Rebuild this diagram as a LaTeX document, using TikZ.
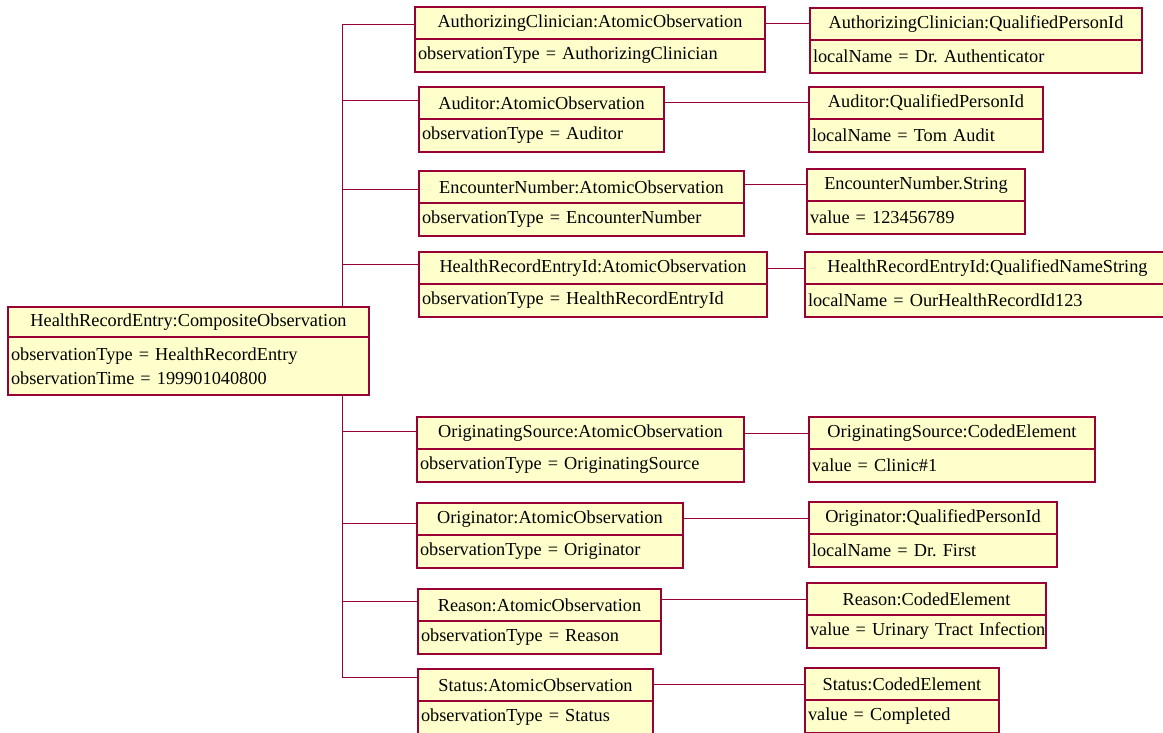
\documentclass[tikz,border=0pt]{standalone}
\usepackage{fontspec}
\setmainfont{Liberation Serif}
\usetikzlibrary{positioning}

\definecolor{umlline}{RGB}{153,0,51}
\definecolor{umlfill}{RGB}{255,255,204}

\tikzset{
  objtitle/.style={draw=umlline, fill=umlfill, line width=1.2pt, anchor=north west,
    inner sep=0pt, outer sep=0pt, minimum width=#1, minimum height=32pt,
    font=\fontsize{18.3}{24}\selectfont\frenchspacing},
  objattr/.style={draw=umlline, fill=umlfill, line width=1.2pt, inner xsep=3pt,
    inner ysep=0pt, outer sep=0pt, text width=#1, align=left, minimum height=33pt,
    font=\fontsize{18.3}{24}\selectfont\frenchspacing},
  link/.style={draw=umlline, line width=1pt},
}

\begin{document}
\begin{tikzpicture}[x=1pt, y=-1pt]
\useasboundingbox (0,0) rectangle (1163,733);

% trunk joints
\coordinate (j1) at (342,25);
\coordinate (j2) at (342,101);
\coordinate (j3) at (342,190);
\coordinate (j4) at (342,264);
\coordinate (j5) at (342,431);
\coordinate (j6) at (342,523);
\coordinate (j7) at (342,601);
\coordinate (j8) at (342,677);
\draw[link] (j1) -- (j8);

% composite
\node[objtitle=361pt, minimum height=30pt] (entry) at (8,307) {HealthRecordEntry:CompositeObservation};
\node[objattr=355pt, minimum height=58pt, below=0pt of entry.south west, anchor=north west] (entry-attr)
  {observationType = HealthRecordEntry\\observationTime = 199901040800};

% atomic observations
\node[objtitle=350pt] (authObs) at (415,7) {AuthorizingClinician:AtomicObservation};
\node[objattr=344pt, below=0pt of authObs.south west, anchor=north west] (authObs-attr) {observationType = AuthorizingClinician};
\node[objtitle=245pt] (audObs) at (419,87) {Auditor:AtomicObservation};
\node[objattr=239pt, below=0pt of audObs.south west, anchor=north west] (audObs-attr) {observationType = Auditor};
\node[objtitle=325pt] (encObs) at (419,171) {EncounterNumber:AtomicObservation};
\node[objattr=319pt, below=0pt of encObs.south west, anchor=north west] (encObs-attr) {observationType = EncounterNumber};
\node[objtitle=348pt] (hreObs) at (419,252) {HealthRecordEntryId:AtomicObservation};
\node[objattr=342pt, below=0pt of hreObs.south west, anchor=north west] (hreObs-attr) {observationType = HealthRecordEntryId};
\node[objtitle=327pt] (srcObs) at (417,417) {OriginatingSource:AtomicObservation};
\node[objattr=321pt, below=0pt of srcObs.south west, anchor=north west] (srcObs-attr) {observationType = OriginatingSource};
\node[objtitle=266pt] (origObs) at (417,503) {Originator:AtomicObservation};
\node[objattr=260pt, below=0pt of origObs.south west, anchor=north west] (origObs-attr) {observationType = Originator};
\node[objtitle=243pt] (reasObs) at (418,589) {Reason:AtomicObservation};
\node[objattr=237pt, below=0pt of reasObs.south west, anchor=north west] (reasObs-attr) {observationType = Reason};
\node[objtitle=235pt] (statObs) at (418,669) {Status:AtomicObservation};
\node[objattr=229pt, below=0pt of statObs.south west, anchor=north west] (statObs-attr) {observationType = Status};

% values
\node[objtitle=332pt] (authId) at (810,8) {AuthorizingClinician:QualifiedPersonId};
\node[objattr=326pt, below=0pt of authId.south west, anchor=north west] (authId-attr) {localName = Dr. Authenticator};
\node[objtitle=234pt] (audId) at (809,87) {Auditor:QualifiedPersonId};
\node[objattr=228pt, below=0pt of audId.south west, anchor=north west] (audId-attr) {localName = Tom Audit};
\node[objtitle=218pt] (encVal) at (807,169) {EncounterNumber.String};
\node[objattr=212pt, below=0pt of encVal.south west, anchor=north west] (encVal-attr) {value = 123456789};
\node[objtitle=365pt] (hreId) at (805,252) {HealthRecordEntryId:QualifiedNameString};
\node[objattr=359pt, below=0pt of hreId.south west, anchor=north west] (hreId-attr) {localName = OurHealthRecordId123};
\node[objtitle=286pt] (srcVal) at (809,417) {OriginatingSource:CodedElement};
\node[objattr=280pt, below=0pt of srcVal.south west, anchor=north west] (srcVal-attr) {value = Clinic\#1};
\node[objtitle=248pt] (origId) at (809,502) {Originator:QualifiedPersonId};
\node[objattr=242pt, below=0pt of origId.south west, anchor=north west] (origId-attr) {localName = Dr. First};
\node[objtitle=239pt] (reasVal) at (807,583) {Reason:CodedElement};
\node[objattr=233pt, below=0pt of reasVal.south west, anchor=north west] (reasVal-attr) {\mbox{value = Urinary Tract Infection}};
\node[objtitle=194pt] (statVal) at (805,668) {Status:CodedElement};
\node[objattr=188pt, below=0pt of statVal.south west, anchor=north west] (statVal-attr) {value = Completed};

% trunk to observations
\draw[link] (j1) -- (j1 -| authObs.west);
\draw[link] (j2) -- (j2 -| audObs.west);
\draw[link] (j3) -- (j3 -| encObs.west);
\draw[link] (j4) -- (j4 -| hreObs.west);
\draw[link] (j5) -- (j5 -| srcObs.west);
\draw[link] (j6) -- (j6 -| origObs.west);
\draw[link] (j7) -- (j7 -| reasObs.west);
\draw[link] (j8) -- (j8 -| statObs.west);

% observations to values
\draw[link] (authObs.east |- authId.west) -- (authId.west);
\draw[link] (audObs.east |- audId.west) -- (audId.west);
\draw[link] (encObs.east |- encVal.west) -- (encVal.west);
\draw[link] (hreObs.east |- hreId.west) -- (hreId.west);
\draw[link] (srcObs.east |- srcVal.west) -- (srcVal.west);
\draw[link] (origObs.east |- origId.west) -- (origId.west);
\draw[link] (reasObs.east |- reasVal.west) -- (reasVal.west);
\draw[link] (statObs.east |- statVal.west) -- (statVal.west);
\end{tikzpicture}
\end{document}
